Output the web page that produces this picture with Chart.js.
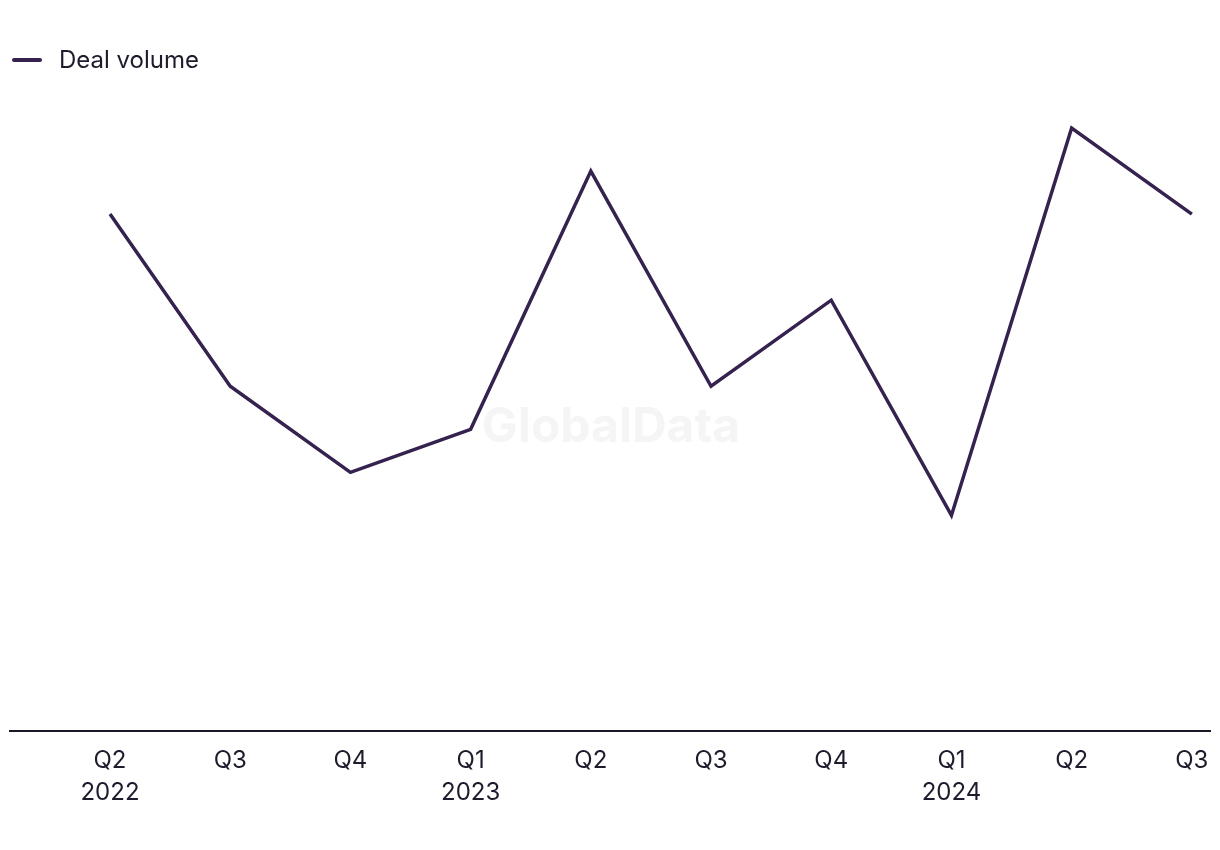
<!DOCTYPE html>
<html>
<head>
<meta charset="utf-8">
<script src="https://cdn.jsdelivr.net/npm/chart.js@4.4.1/dist/chart.umd.min.js"></script>
<style>
  html, body { margin: 0; padding: 0; background: #fff; overflow: hidden; }
  #wrap { position: relative; width: 1220px; height: 850px; }
  #legend {
    position: absolute; left: 12px; top: 45px;
    font-family: Inter, "Noto Sans", sans-serif; font-size: 24px; color: #1d1b2c;
    display: flex; align-items: center;
  }
  #legend .swatch { width: 30px; height: 4px; border-radius: 2px; background: #35224f; margin-right: 17px; }
</style>
</head>
<body>
<div id="wrap">
  <div id="legend"><span class="swatch"></span><span>Deal volume</span></div>
  <canvas id="chart" width="1220" height="850"></canvas>
</div>
<script>
// -------------------------------
// Data
// -------------------------------
const quarters = ["Q2", "Q3", "Q4", "Q1", "Q2", "Q3", "Q4", "Q1", "Q2", "Q3"];
const years = ["2022", "", "", "2023", "", "", "", "2024", "", ""];
const dealVolume = [12, 8, 6, 7, 13, 8, 10, 5, 14, 12];

const lineColor = "#35224f";
const textColor = "#1d1b2c";

// faint watermark in the middle of the plot
const watermark = {
  id: "watermark",
  beforeDatasetsDraw(chart) {
    const { ctx } = chart;
    ctx.save();
    ctx.font = "bold 48px Inter, sans-serif";
    ctx.fillStyle = "#f5f5f6";
    ctx.textAlign = "center";
    ctx.textBaseline = "middle";
    ctx.fillText("GlobalData", 611, 428);
    ctx.restore();
  }
};

const points = dealVolume.map((v, i) => ({ x: i, y: v }));

new Chart(document.getElementById("chart"), {
  type: "line",
  data: {
    datasets: [{
      label: "Deal volume",
      data: points,
      borderColor: lineColor,
      borderWidth: 3.5,
      pointRadius: 0,
      tension: 0,
      fill: false
    }]
  },
  options: {
    responsive: false,
    animation: false,
    layout: { padding: { left: 10, right: 10, top: 85, bottom: 27 } },
    plugins: {
      legend: { display: false },
      tooltip: { enabled: false }
    },
    scales: {
      x: {
        type: "linear",
        min: -0.832,
        max: 9.151,
        afterBuildTicks(scale) {
          scale.ticks = quarters.map((q, i) => ({ value: i }));
        },
        afterFit(scale) {
          scale.paddingLeft = 0;
          scale.paddingRight = 0;
        },
        grid: { display: false, drawTicks: false },
        border: { display: true, color: "#1a1826", width: 2 },
        ticks: {
          padding: 15,
          maxRotation: 0,
          autoSkip: false,
          color: textColor,
          font: { family: "Inter, 'Noto Sans', sans-serif", size: 24, lineHeight: 1.3 },
          callback: (value) => {
            const i = Math.round(value);
            return years[i] ? [quarters[i], years[i]] : quarters[i];
          }
        }
      },
      y: {
        display: false,
        min: 0,
        max: 15
      }
    }
  },
  plugins: [watermark]
});
</script>
</body>
</html>
